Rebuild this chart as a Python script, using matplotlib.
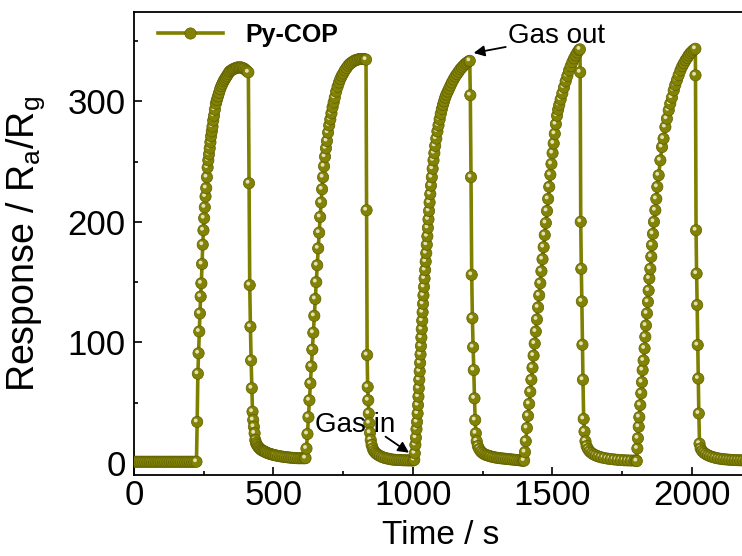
import numpy as np
import matplotlib
matplotlib.use('Agg')
import matplotlib.pyplot as plt
from matplotlib.path import Path
from matplotlib.collections import PathCollection
from matplotlib.transforms import IdentityTransform
from matplotlib.lines import Line2D
from matplotlib.ticker import MultipleLocator

plt.rcParams['font.family'] = ['Liberation Sans', 'DejaVu Sans']
plt.rcParams['mathtext.fontset'] = 'custom'
plt.rcParams['mathtext.rm'] = 'Liberation Sans'
plt.rcParams['mathtext.it'] = 'Liberation Sans:italic'
plt.rcParams['mathtext.bf'] = 'Liberation Sans:bold'

# ---------------- data ----------------
series_label = 'Py-COP'
x_label = 'Time / s'
y_label = r'Response / R$_\mathregular{a}$/R$_\mathregular{g}$'
x_ticks = [0, 500, 1000, 1500, 2000]
y_ticks = [0, 100, 200, 300]

# cycle 1 (baseline, gas in ~226 s, gas out ~410 s)
t_c1 = [0, 8, 16, 24, 32, 40, 48, 56, 64, 72, 80, 88, 96, 104, 112, 120, 128, 136,
        144, 152, 160, 168, 176, 184, 192, 200, 208, 216, 224,
        226.5, 229, 231.5, 234, 236.5, 239, 241.5, 244, 246.5, 249, 251.5, 254, 256.5,
        259, 261.5, 264, 266.5, 269, 271.5, 274, 276.5, 279, 281.5, 284, 287, 290, 293.5,
        297, 301, 305, 309, 313, 317, 321, 325, 329, 333, 337, 341, 345, 350, 355, 360,
        365, 370, 375, 380, 385, 390, 395, 400, 405, 410,
        412.5, 415, 417.5, 420, 422.5, 425, 427.5, 430, 432.5, 435, 437.5, 441, 445, 449,
        453, 457, 461, 465, 469, 473, 479, 485, 491, 497, 503, 509, 517, 525, 533, 541,
        549, 557, 565, 573, 581, 589, 597, 605, 612]
r_c1 = [1.0, 1.0, 1.0, 1.0, 1.0, 1.0, 1.0, 1.0, 1.0, 1.0, 1.0, 1.0, 1.0, 1.0, 1.0, 1.0,
        1.0, 1.0, 1.0, 1.0, 1.0, 1.0, 1.0, 1.0, 1.0, 1.0, 1.0, 1.0, 1.0,
        34, 74, 91, 109, 124, 138, 149, 165, 181, 193, 203, 212, 221, 228, 237, 245,
        251, 256, 261, 266, 271, 275, 279, 284, 288, 293, 298, 301, 304, 307, 310,
        312.5, 314.5, 316.5, 318, 319.5, 321, 322.5, 324, 325, 325.8, 326.5, 327, 327.5,
        328, 328, 328, 328, 327.5, 327, 326, 325, 324,
        232, 147.5, 113, 85, 62, 42.5, 35.6, 30, 24.6, 19, 16.5, 15, 13.5, 12.5, 11.5,
        10.8, 10.2, 9.8, 9.4, 8.8, 8.2, 7.7, 7.3, 6.9, 6.6, 6.2, 5.8, 5.5, 5.2, 4.9,
        4.7, 4.5, 4.3, 4.2, 4.0, 3.9, 3.9, 3.9, 3.9]

# cycle 2 (gas in ~615 s, gas out ~832 s)
t_c2 = [615, 618.5, 622, 625.5, 629, 632.5, 636, 639.5, 643, 646.5, 650, 653.5, 657,
        660.5, 664, 667.5, 671, 674.5, 678, 681.5, 685, 688.5, 692, 696, 700, 704, 708,
        712, 716, 720, 725, 730, 735, 740, 745, 750, 756, 762, 768, 774, 780, 786, 792,
        798, 804, 810, 816, 822, 828, 832,
        834, 836, 838, 840, 842, 844, 846.5, 849, 852, 856, 860, 865, 870, 876, 882, 889,
        896, 904, 912, 920, 928, 936, 944, 952, 960, 968, 976, 984, 992, 1000]
r_c2 = [4, 12, 24, 38, 52, 66, 80, 94, 108, 122, 136, 150, 164, 178, 191, 204, 216, 227,
        237, 246, 254, 261, 267, 274, 280, 285, 290, 295, 299, 303, 308, 312, 315.5,
        318.5, 321, 323, 325.5, 327.5, 329.5, 331, 332, 333, 333.8, 334.3, 334.7, 335,
        335, 335, 334.8, 334.5,
        209.6, 89.5, 63, 52, 41, 33, 25, 19, 15, 12, 10, 8.6, 7.5, 6.6, 5.8, 5.0, 4.4,
        3.9, 3.5, 3.1, 2.8, 2.6, 2.5, 2.4, 2.3, 2.2, 2.2, 2.1, 2.1, 2.0]

# cycle 3 (gas in ~1005 s, gas out ~1204 s)
t_c3 = [1005, 1007, 1009, 1011, 1013, 1015, 1017, 1018.5, 1020, 1021.5, 1023, 1024.5,
        1026, 1027.5, 1029, 1030.5, 1032, 1033.5, 1035, 1036.5, 1038, 1040, 1042, 1044,
        1046, 1048, 1050, 1052, 1054, 1056, 1058, 1060, 1062.5, 1065, 1068, 1071, 1074,
        1077, 1080, 1084, 1088, 1092, 1096, 1100, 1104, 1108, 1112, 1116, 1120, 1125,
        1130, 1135, 1140, 1146, 1152, 1158, 1164, 1170, 1176, 1182, 1188, 1194, 1200, 1204,
        1206, 1208.5, 1211, 1213.5, 1216, 1218.5, 1221, 1223.5, 1226, 1229, 1233, 1238,
        1244, 1250, 1257, 1264, 1271, 1278, 1286, 1294, 1302, 1310, 1318, 1326, 1334,
        1342, 1350, 1358, 1366, 1374, 1382, 1390, 1396]
r_c3 = [2.5, 8, 15, 21, 28, 34, 41, 48, 55, 62, 69, 76, 83, 90, 97, 104, 111, 118, 125,
        132, 139, 146, 153, 160, 167, 174, 181, 188, 195, 202, 209, 216, 223, 230, 237,
        244, 251, 257, 263, 269, 275, 280, 285, 289.5, 293.5, 297, 300, 303, 305.5, 308,
        310.5, 313, 315.5, 318, 320.5, 322.5, 324.5, 326.5, 328, 329.5, 331, 332, 333, 333.5,
        305, 237, 156, 120, 96, 77, 53.6, 35.6, 24.6, 18, 14, 11.5, 9.5, 8.2, 7.2, 6.5,
        6.0, 5.5, 5.0, 4.6, 4.3, 4.0, 3.8, 3.6, 3.4, 3.2, 3.0, 2.8, 2.6, 2.4, 2.2, 2.0, 1.8]

# cycle 4 (gas in ~1399 s, gas out ~1599 s)
t_c4 = [1399, 1402, 1405, 1409, 1413, 1417, 1421, 1425, 1429, 1433, 1437, 1441, 1445,
        1449, 1453, 1457, 1461, 1465, 1469, 1473, 1477, 1481, 1485, 1489, 1493, 1497,
        1501, 1505, 1509, 1513, 1517, 1521, 1525, 1530, 1536, 1542, 1548, 1554, 1560,
        1566, 1572, 1578, 1584, 1590, 1596, 1599,
        1600, 1602, 1604, 1606, 1608, 1610, 1612.5, 1615.5, 1619, 1623, 1628, 1634, 1641,
        1648, 1656, 1665, 1675, 1686, 1698, 1710, 1722, 1734, 1746, 1758, 1770, 1782,
        1794, 1801]
r_c4 = [2, 9, 18, 29, 39, 49, 59, 69, 79, 89, 99, 109, 119, 129, 139, 149, 159, 169,
        179, 189, 199, 209, 219, 229, 239, 248, 257, 265, 273, 281, 288, 293, 297, 301.5,
        306.5, 311.5, 316.5, 321, 325.5, 329, 332.5, 335.5, 338, 340.5, 342.5, 343,
        324, 200, 161, 134, 98, 69, 36.5, 26, 18, 14, 11.5, 9.6, 8.2, 7.1, 6.2, 5.4, 4.7,
        4.1, 3.6, 3.2, 2.9, 2.6, 2.4, 2.2, 2.1, 2.0, 2.0, 2.0]

# cycle 5 (gas in ~1803 s, gas out ~2013 s)
t_c5 = [1803, 1805, 1807, 1810, 1812, 1815.5, 1819, 1821.5, 1824, 1827.5, 1831, 1833.5,
        1836, 1839.5, 1843, 1845.5, 1848, 1851.5, 1855, 1857.5, 1861, 1864.5, 1869.5,
        1873, 1876.5, 1881.5, 1887.5, 1893.5, 1899, 1905.5, 1911, 1917.5, 1923, 1929,
        1935.5, 1941, 1947, 1953, 1959.5, 1966, 1972, 1978, 1984, 1989, 1995, 2001, 2007,
        2013,
        2013.5, 2015.5, 2017.5, 2019.5, 2021.5, 2023.5, 2025.5, 2028, 2032, 2037, 2043,
        2050, 2058, 2066, 2075, 2084, 2094, 2104, 2114, 2124, 2134, 2144, 2154, 2164,
        2174, 2184, 2194, 2204]
r_c5 = [1.5, 12, 20.5, 30, 38, 48, 57.7, 67, 77, 85, 95, 104.6, 114, 124, 133.6, 143,
        153, 161, 171, 180.6, 190, 200, 209.6, 219, 229, 238.6, 251, 262, 269, 278.6,
        285.5, 292.5, 298, 303, 309, 313.5, 317.5, 321.5, 325.6, 329, 331.5, 334, 336,
        338, 339.8, 341.2, 342.5, 343.5,
        321.5, 193, 157, 131, 97.8, 70, 41, 16, 12, 10, 8.6, 7.4, 6.4, 5.6, 4.9, 4.3,
        3.8, 3.4, 3.1, 2.9, 2.7, 2.5, 2.4, 2.3, 2.2, 2.1, 2.0, 2.0]

# ---------------- styling ----------------
OLIVE = '#808000'
BEAD = '#828204'
BEAD_EDGE = '#5e5e00'
SPOT = '#e2e2b8'

time_s = np.concatenate([t_c1, t_c2, t_c3, t_c4, t_c5]).astype(float)
resp = np.concatenate([r_c1, r_c2, r_c3, r_c4, r_c5]).astype(float)

fig = plt.figure(figsize=(7.42, 5.56), dpi=100)
ax = fig.add_axes([134 / 742, 81 / 556, 613.5 / 742, 463 / 556])

ax.plot(time_s, resp, color=OLIVE, lw=2.6, zorder=2, solid_joinstyle='round')

# sphere-like markers: dark bead + small highlight, interleaved so later beads cover earlier ones
big = Path.circle((0, 0), 0.5)
spot = Path.circle((-0.13, 0.13), 0.17)
offsets = np.column_stack([np.repeat(time_s, 2), np.repeat(resp, 2)])
pc = PathCollection([big, spot], sizes=[66, 66], offsets=offsets,
                    offset_transform=ax.transData,
                    facecolors=[BEAD, SPOT], edgecolors=[BEAD_EDGE, 'none'],
                    linewidths=[0.5, 0], zorder=3)
pc.set_transform(IdentityTransform())
ax.add_collection(pc)

ax.set_xlim(0, 2200)
ax.set_ylim(-10, 374)
ax.set_xticks(x_ticks)
ax.set_yticks(y_ticks)
ax.xaxis.set_minor_locator(MultipleLocator(250))
ax.yaxis.set_minor_locator(MultipleLocator(50))
ax.tick_params(which='both', direction='in', top=False, right=False, width=1.2)
ax.tick_params(which='major', length=5.8, labelsize=25)
ax.tick_params(axis='x', which='major', pad=3)
ax.tick_params(axis='y', which='major', pad=6)
ax.tick_params(which='minor', length=3)
for s in ax.spines.values():
    s.set_linewidth(1.3)

ax.set_xlabel(x_label, fontsize=24)
ax.set_ylabel(y_label, fontsize=27)
ax.xaxis.set_label_coords(0.5, -0.097)
ax.yaxis.set_label_coords(-0.142, 0.5)

handle = Line2D([], [], color=OLIVE, lw=2.6, marker='o', markersize=8.1,
                markerfacecolor=BEAD, markeredgecolor=BEAD_EDGE, markeredgewidth=0.5)
ax.legend([handle], [series_label], loc='center left', bbox_to_anchor=(0.039, 0.95),
          frameon=False, borderpad=0, borderaxespad=0, handlelength=2.6,
          handletextpad=0.9, numpoints=1, prop={'weight': 'bold', 'size': 18})

arrow = dict(arrowstyle='-|>', color='black', lw=1.3, mutation_scale=16,
             shrinkA=0, shrinkB=0)
ax.annotate('', xy=(1218, 340), xytext=(1333, 345), arrowprops=arrow, zorder=5)
ax.text(1340, 348, 'Gas out', fontsize=20, ha='left', va='baseline', zorder=5)
ax.annotate('', xy=(986, 8.5), xytext=(902, 21.8), arrowprops=arrow, zorder=5)
ax.text(650, 25.7, 'Gas in', fontsize=20, ha='left', va='baseline', zorder=5)

fig.savefig('out.png', dpi=100)
